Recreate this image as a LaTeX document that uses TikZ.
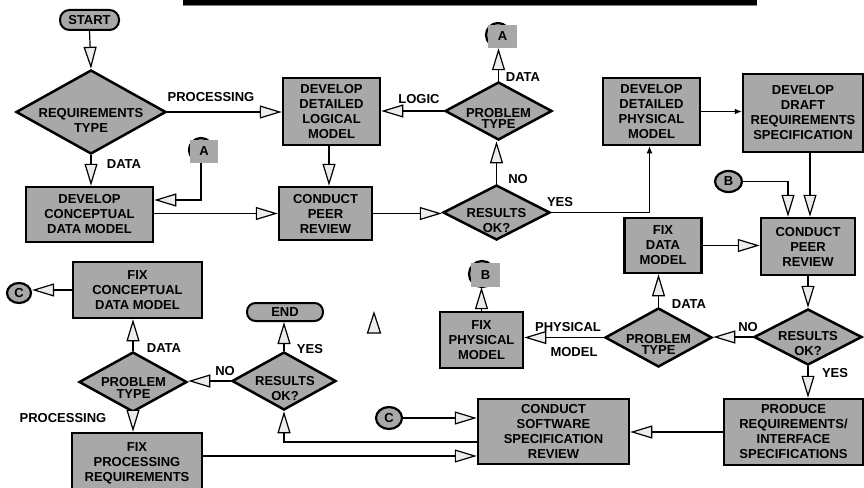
\documentclass[tikz,border=0pt]{standalone}
\usepackage{fontspec}
\setmainfont{Liberation Sans}
\usetikzlibrary{arrows.meta,shapes.geometric}
\definecolor{boxgray}{RGB}{168,168,168}
\definecolor{arrowfill}{RGB}{236,236,236}
\newcommand\flowfont{\fontsize{13}{15}\selectfont\bfseries}
\newcommand\tightfont{\fontsize{13}{11.5}\selectfont\bfseries}
\begin{document}
\begin{tikzpicture}[x=1pt,y=-1pt,
  box/.style={draw, line width=2.5pt, fill=boxgray, inner sep=0pt, align=center, font=\flowfont},
  dia/.style={diamond, draw, line width=2.5pt, fill=boxgray, inner sep=0pt},
  pill/.style={draw, line width=2pt, fill=boxgray, inner sep=0pt, font=\flowfont},
  conn/.style={ellipse, draw, line width=2.2pt, fill=boxgray, inner sep=0pt, font=\flowfont},
  sq/.style={fill=boxgray, inner sep=0pt, font=\flowfont},
  txt/.style={inner sep=0pt, align=center, font=\flowfont},
  ttxt/.style={inner sep=0pt, align=center, font=\tightfont},
  oarr/.style={line width=1.2pt, -{Triangle[length=22pt,width=13pt,fill=arrowfill]}},
  barr/.style={line width=1.2pt, -{Latex[length=7pt,width=6pt]}}]
\useasboundingbox (0,0) rectangle (864,487);
\clip (0,0) rectangle (864,487);
% top bar
\fill (183,0) rectangle (757,5);
\draw[gray, line width=1pt] (183,5.8) -- (757,5.8);

% pills
\node[pill, rounded corners=9.5pt, minimum width=59pt, minimum height=20pt] (start) at (89.5,20) {START};
\node[pill, rounded corners=8.5pt, minimum width=76pt, minimum height=18pt] (end) at (285,312) {END};

% boxes
\node[box, minimum width=127pt, minimum height=55pt] (dcdm) at (89.5,214.5) {DEVELOP\\CONCEPTUAL\\DATA MODEL};
\node[box, minimum width=97pt, minimum height=67pt] (ddlm) at (331.5,111.5) {DEVELOP\\DETAILED\\LOGICAL\\MODEL};
\node[box, minimum width=93pt, minimum height=53pt] (cpr1) at (325.5,213.5) {CONDUCT\\PEER\\REVIEW};
\node[box, minimum width=97pt, minimum height=67pt] (ddpm) at (651.5,111.5) {DEVELOP\\DETAILED\\PHYSICAL\\MODEL};
\node[box, minimum width=120pt, minimum height=78pt] (ddrs) at (803,113) {DEVELOP\\DRAFT\\REQUIREMENTS\\SPECIFICATION};
\node[box, minimum width=94pt, minimum height=57pt] (cpr2) at (808,246.5) {CONDUCT\\PEER\\REVIEW};
\node[box, minimum width=77pt, minimum height=55pt] (fdm) at (663,245.5) {FIX\\DATA\\MODEL};
\node[box, minimum width=139pt, minimum height=66pt] (pris) at (793.5,432) {PRODUCE\\REQUIREMENTS/\\INTERFACE\\SPECIFICATIONS};
\node[box, minimum width=151pt, minimum height=65pt] (cssr) at (553.5,431.5) {CONDUCT\\SOFTWARE\\SPECIFICATION\\REVIEW};
\node[box, minimum width=83pt, minimum height=56pt] (fpm) at (481.5,340) {FIX\\PHYSICAL\\MODEL};
\node[box, minimum width=129pt, minimum height=56pt] (fcdm) at (137.5,290) {FIX\\CONCEPTUAL\\DATA MODEL};
\node[box, minimum width=130pt, minimum height=58pt, text depth=0pt] (fpr) at (137,462) {FIX\\PROCESSING\\REQUIREMENTS};

% diamonds
\node[dia, minimum width=150pt, minimum height=84pt] (rt) at (91,112) {};
\node[txt] (rtt) at (91,120) {REQUIREMENTS\\TYPE};
\node[dia, minimum width=107pt, minimum height=58pt] (pt1) at (498.5,111) {};
\node[ttxt] (pt1t) at (498.5,118.5) {PROBLEM\\TYPE};
\node[dia, minimum width=107pt, minimum height=55pt] (ro1) at (496.5,212.5) {};
\node[txt] (ro1t) at (496.5,220.5) {RESULTS\\OK?};
\node[dia, minimum width=107pt, minimum height=59pt] (pt2) at (658.5,337.5) {};
\node[ttxt] (pt2t) at (658.5,344.5) {PROBLEM\\TYPE};
\node[dia, minimum width=108pt, minimum height=56pt] (ro2) at (808,337) {};
\node[txt] (ro2t) at (808,343.5) {RESULTS\\OK?};
\node[dia, minimum width=108pt, minimum height=60pt] (pt3) at (133,382) {};
\node[ttxt] (pt3t) at (133.5,388) {PROBLEM\\TYPE};
\node[dia, minimum width=104pt, minimum height=58pt] (ro3) at (284,381) {};
\node[txt] (ro3t) at (285,388.5) {RESULTS\\OK?};

% off-page connectors
\node[conn, minimum width=24pt, minimum height=24pt] (cA1) at (201,150) {};
\node[sq, minimum width=28pt, minimum height=23pt] (sqA1) at (204,151.5) {A};
\node[conn, minimum width=24pt, minimum height=24pt] (cA2) at (498,35) {};
\node[sq, minimum width=29pt, minimum height=23pt] (sqA2) at (502.5,36.5) {A};
\node[conn, minimum width=26pt, minimum height=26pt] (cB1) at (482,274) {};
\node[sq, minimum width=29pt, minimum height=24pt] (sqB1) at (485.5,275) {B};
\node[conn, minimum width=27pt, minimum height=21pt] (cB2) at (728.5,181.5) {B};
\node[conn, minimum width=24pt, minimum height=20pt] (cC1) at (19,293) {C};
\node[conn, minimum width=26pt, minimum height=22pt] (cC2) at (389,418) {C};

% connectors
\draw[oarr] (start.south) -- (rt.north);
\draw[oarr] (rt.east) -- (rt.east -| ddlm.west);
\draw[oarr] (rt.south) -- (rt.south |- dcdm.north);
\draw[oarr] (cA1 |- sqA1.south) |- ([yshift=14.5pt]dcdm.east);
\draw[oarr] (dcdm.east |- cpr1) -- (cpr1.west);
\draw[oarr] ([xshift=-2.5pt]ddlm.south) -- ([xshift=-2.5pt]ddlm.south |- cpr1.north);
\draw[oarr] (cpr1.east) -- (cpr1.east -| ro1.west);
\draw[oarr] (ro1.north) -- (ro1.north |- pt1.south);
\draw[oarr] (pt1.west) -- (pt1.west -| ddlm.east);
\draw[oarr] (pt1.north) -- (pt1.north |- sqA2.south);
\draw[barr] (ro1.east) -| ([xshift=-2pt]ddpm.south);
\draw[barr] (ddpm.east) -- (ddpm.east -| ddrs.west);
\draw[oarr] (cB2.east) -| ([xshift=-20pt]cpr2.north);
\draw[oarr] ([xshift=2pt]cpr2.north |- ddrs.south) -- ([xshift=2pt]cpr2.north);
\draw[oarr] (fdm.east) -- (fdm.east -| cpr2.west);
\draw[oarr] (cpr2.south) -- (cpr2.south |- ro2.north);
\draw[oarr] (ro2.west) -- (ro2.west -| pt2.east);
\draw[oarr] (pt2.north) -- (pt2.north |- fdm.south);
\draw[oarr] (ro2.south) -- (ro2.south |- pris.north);
\draw[oarr] (pris.west) -- (pris.west -| cssr.east);
\draw[oarr] (pt2.west) -- (pt2.west -| fpm.east);
\draw[oarr] (fpm.north) -- (fpm.north |- sqB1.south);
\draw[oarr] (cC2.east) -- (cC2.east -| cssr.west);
\draw[oarr] ([yshift=-10.5pt]cssr.west) -| (ro3.south);
\draw[oarr] ([yshift=6pt]fpr.east) -- ([yshift=6pt]fpr.east -| cssr.west);
\draw[oarr] (ro3.north) -- (ro3.north |- end.south);
\draw[oarr] (ro3.west) -- (ro3.west -| pt3.east);
\draw[oarr] (pt3.north) -- (pt3.north |- fcdm.south);
\draw[oarr] (pt3.south) -- (pt3.south |- fpr.north);
\draw[oarr] (fcdm.west) -- (fcdm.west -| cC1.east);

% stray arrowhead
\draw[line width=1.2pt, fill=arrowfill] (367.5,333) -- (374,313) -- (380.5,333) -- cycle;

% labels
\node[txt] (l1) at (211,97) {PROCESSING};
\node[txt] (l2) at (124,164) {DATA};
\node[txt] (l3) at (419,99) {LOGIC};
\node[txt] (l4) at (523,77) {DATA};
\node[txt] (l5) at (518,179) {NO};
\node[txt] (l6) at (560,202) {YES};
\node[txt] (l7) at (748,327) {NO};
\node[txt] (l8) at (689,304) {DATA};
\node[txt] (l9) at (835,373) {YES};
\node[txt] (l10) at (568,327) {PHYSICAL};
\node[txt] (l11) at (574,352) {MODEL};
\node[txt] (l12) at (164,348) {DATA};
\node[txt] (l13) at (63,418) {PROCESSING};
\node[txt] (l14) at (225,371) {NO};
\node[txt] (l15) at (310,349) {YES};
\end{tikzpicture}
\end{document}
